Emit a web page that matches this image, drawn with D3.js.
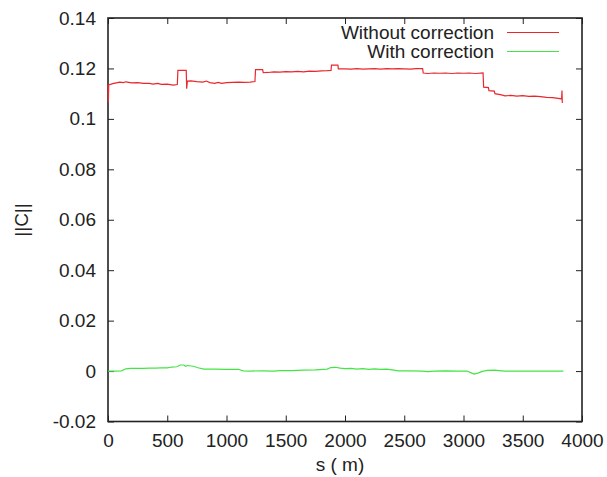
<!DOCTYPE html>
<html><head><meta charset="utf-8">
<script src="https://cdn.jsdelivr.net/npm/d3@7"></script>
<style>body{margin:0;background:#fff;}svg text{font-family:"Liberation Sans",Arial,sans-serif;fill:#222;}</style>
</head><body><svg id="c" width="607" height="477"></svg>
<script>
const seriesNames = ["Without correction", "With correction"];
const seriesColors = ["#e8282d", "#45e445"];
const xTicks = [0,500,1000,1500,2000,2500,3000,3500,4000];
const yTicks = [-0.02,0,0.02,0.04,0.06,0.08,0.1,0.12,0.14];
const yTickLabels = ["-0.02","0","0.02","0.04","0.06","0.08","0.1","0.12","0.14"];
// [s, ||C||] without correction
const withoutCorr = [
[0,0.1135],[3,0.1065],[6,0.1135],[40,0.1140],[80,0.1144],[100,0.1146],[130,0.1144],[150,0.1147],[200,0.1143],[250,0.1144],[300,0.1141],[350,0.1141],[380,0.1138],[420,0.1141],[450,0.1137],[500,0.1138],[550,0.1134],[585,0.1136],
[590,0.1192],[660,0.1192],[664,0.1120],[670,0.1150],[700,0.1151],[750,0.1148],[800,0.1146],[830,0.1150],[860,0.1144],[900,0.1141],[930,0.1145],[960,0.1141],[1000,0.1144],[1050,0.1145],[1100,0.1146],[1150,0.1145],[1200,0.1146],[1240,0.1148],
[1245,0.1195],[1305,0.1195],[1310,0.1183],[1350,0.1184],[1400,0.1186],[1450,0.1185],[1500,0.1187],[1550,0.1186],[1600,0.1188],[1650,0.1186],[1700,0.1189],[1750,0.1188],[1800,0.1190],[1850,0.1191],[1882,0.1192],
[1886,0.1213],[1940,0.1213],[1944,0.1198],[2000,0.1198],[2050,0.1197],[2100,0.1199],[2150,0.1197],[2200,0.1198],[2250,0.1199],[2300,0.1197],[2350,0.1199],[2400,0.1198],[2450,0.1199],[2500,0.1198],[2550,0.1197],[2600,0.1199],[2655,0.1199],
[2660,0.1182],[2700,0.1180],[2750,0.1182],[2800,0.1181],[2850,0.1182],[2900,0.1180],[2950,0.1182],[3000,0.1181],[3050,0.1182],[3100,0.1180],[3165,0.1182],
[3170,0.1126],[3210,0.1124],[3215,0.1112],[3260,0.1110],[3265,0.1100],[3320,0.1095],[3350,0.1091],[3400,0.1093],[3450,0.1090],[3500,0.1092],[3550,0.1089],[3600,0.1090],[3650,0.1088],[3700,0.1085],[3750,0.1084],[3800,0.1081],[3828,0.1079],[3831,0.1112],[3834,0.1063]
];
// [s, ||C||] with correction
const withCorr = [
[0,0.0000],[60,0.0000],[115,0.0001],[150,0.0009],[190,0.0011],[250,0.0011],[300,0.0011],[350,0.0012],[400,0.0012],[450,0.0013],[500,0.0013],[540,0.0016],[580,0.0017],[610,0.0024],[640,0.0024],[655,0.0019],[670,0.0022],[720,0.0019],[760,0.0013],[810,0.0008],[900,0.0008],[1000,0.0007],[1100,0.0007],[1140,0.0001],[1200,0.0000],[1300,0.0001],[1400,0.0000],[1450,0.0002],[1550,0.0002],[1650,0.0004],[1750,0.0005],[1850,0.0008],[1880,0.0014],[1920,0.0015],[1960,0.0012],[2000,0.0010],[2050,0.0011],[2100,0.0008],[2150,0.0010],[2200,0.0007],[2250,0.0009],[2300,0.0007],[2350,0.0008],[2400,0.0005],[2450,0.0001],[2550,0.0001],[2650,0.0000],[2700,-0.0002],[2750,0.0000],[2850,0.0001],[2950,0.0000],[3030,0.0000],[3060,-0.0006],[3090,-0.0012],[3120,-0.0008],[3160,-0.0001],[3200,0.0003],[3260,0.0004],[3300,0.0002],[3350,0.0000],[3500,0.0000],[3650,0.0000],[3843,0.0000]
];

const svg = d3.select("#c");
const L=108, R=582, T=18, B=421.5;
const FS = 19;
const x = d3.scaleLinear().domain([0,4000]).range([L,R]);
const y = d3.scaleLinear().domain([-0.02,0.14]).range([B,T]);

const tick = 6;
svg.append("g").attr("transform",`translate(0,${B})`)
  .call(d3.axisBottom(x).tickValues(xTicks).tickSizeInner(-tick).tickSizeOuter(0).tickFormat(d3.format("d")))
  .call(g=>{g.select(".domain").remove();g.selectAll("text").attr("font-size",FS).attr("y",25.5).attr("dy",0);});
svg.append("g").attr("transform",`translate(0,${T})`)
  .call(d3.axisTop(x).tickValues(xTicks).tickSizeInner(-tick).tickSizeOuter(0).tickFormat(""))
  .call(g=>g.select(".domain").remove());
svg.append("g").attr("transform",`translate(${L},0)`)
  .call(d3.axisLeft(y).tickValues(yTicks).tickSizeInner(-tick).tickSizeOuter(0).tickPadding(12).tickFormat((d,i)=>yTickLabels[i]))
  .call(g=>{g.select(".domain").remove();g.selectAll("text").attr("font-size",FS);});
svg.append("g").attr("transform",`translate(${R},0)`)
  .call(d3.axisRight(y).tickValues(yTicks).tickSizeInner(-tick).tickSizeOuter(0).tickFormat(""))
  .call(g=>g.select(".domain").remove());
svg.selectAll(".tick line").attr("stroke","#222").attr("stroke-width",1);

svg.append("rect").attr("x",L).attr("y",T).attr("width",R-L).attr("height",B-T)
  .attr("fill","none").attr("stroke","#222").attr("stroke-width",1.6);

const line = d3.line().x(d=>x(d[0])).y(d=>y(d[1]));
[withoutCorr, withCorr].forEach((data,i)=>{
  svg.append("path").datum(data).attr("d",line).attr("fill","none")
    .attr("stroke",seriesColors[i]).attr("stroke-width",1.2);
});

seriesNames.forEach((n,i)=>{
  const yy = 32.5 + i*19;
  svg.append("text").attr("x",494).attr("y",yy).attr("dy","0.35em").attr("text-anchor","end")
    .attr("font-size",FS).text(n);
  svg.append("line").attr("x1",507).attr("x2",559).attr("y1",yy).attr("y2",yy)
    .attr("stroke",seriesColors[i]).attr("stroke-width",1.2);
});

svg.append("text").attr("transform","translate(21,220) rotate(-90)").attr("dy","0.35em").attr("text-anchor","middle")
  .attr("font-size",FS).text("||C||");
svg.append("text").attr("x",340).attr("y",471).attr("text-anchor","middle")
  .attr("font-size",FS).text("s ( m)");
</script></body></html>
